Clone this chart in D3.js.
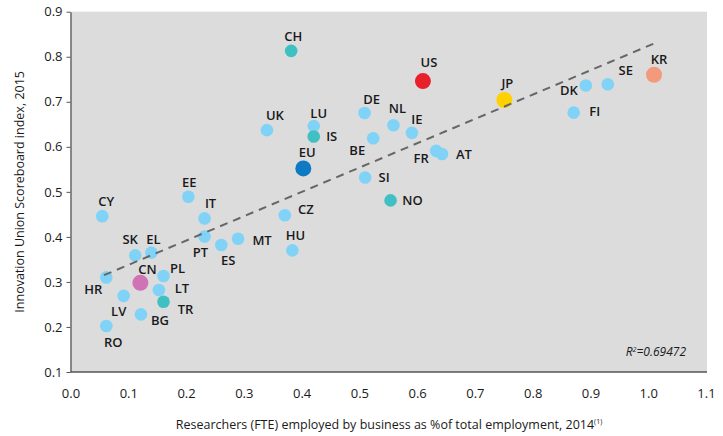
<!DOCTYPE html>
<html>
<head>
<meta charset="utf-8">
<script src="https://cdn.jsdelivr.net/npm/d3@7"></script>
<style>
  html, body { margin: 0; padding: 0; background: #fff; }
  svg { display: block; font-family: "Open Sans", "Lato", sans-serif; }
</style>
</head>
<body>
<svg id="chart" width="723" height="436"></svg>
<script>
// ---- data ----
const codes = ["CH","UK","LU","IS","EU","EE","CY","IT","CZ","US","JP","DE","NL","IE","BE","FR","AT","SI","NO","DK","SE","KR","FI","SK","EL","HR","CN","PL","LT","TR","LV","BG","RO","PT","ES","MT","HU"];
const researchers = [0.382,0.340,0.421,0.421,0.403,0.204,0.055,0.232,0.371,0.610,0.751,0.509,0.559,0.591,0.524,0.633,0.643,0.510,0.554,0.892,0.930,1.010,0.871,0.112,0.140,0.062,0.121,0.161,0.153,0.161,0.092,0.122,0.062,0.232,0.261,0.290,0.384];
const iusIndex = [0.813,0.637,0.646,0.623,0.552,0.489,0.446,0.441,0.448,0.746,0.704,0.675,0.648,0.631,0.619,0.591,0.584,0.532,0.481,0.736,0.739,0.760,0.676,0.359,0.365,0.310,0.298,0.313,0.282,0.256,0.269,0.228,0.202,0.401,0.382,0.396,0.370];
const groups = ["other","eu28","eu28","other","eu","eu28","eu28","eu28","eu28","us","jp","eu28","eu28","eu28","eu28","eu28","eu28","eu28","other","eu28","eu28","kr","eu28","eu28","eu28","eu28","cn","eu28","eu28","other","eu28","eu28","eu28","eu28","eu28","eu28","eu28"];
const xTicks = [0.0,0.1,0.2,0.3,0.4,0.5,0.6,0.7,0.8,0.9,1.0,1.1];
const yTicks = [0.1,0.2,0.3,0.4,0.5,0.6,0.7,0.8,0.9];
const trendX = [0.058, 1.015];
const trendY = [0.315, 0.832];
const rSquared = "0.69472";

// ---- styles / layout (not data) ----
const colors = {eu28:"#80d3f6", other:"#40c0c3", eu:"#0f7ac4", us:"#e8202a", jp:"#ffd100", kr:"#f49a7c", cn:"#cf73b6"};
const bigGroups = new Set(["eu","us","jp","kr","cn"]);
const labelOffsets = {
  CH:[2,-15], UK:[8,-15], LU:[5,-13], IS:[18,0], EU:[4,-16], EE:[1,-15], CY:[4,-15], IT:[6,-15], CZ:[21,-6],
  US:[6,-19], JP:[3,-17], DE:[7,-14], NL:[4,-17], IE:[5,-14], BE:[-16,12], FR:[-15,7], AT:[22,0], SI:[19,0],
  NO:[22,0], DK:[-17,4], SE:[18,-14], KR:[5,-16], FI:[21,-2], SK:[-5,-16], EL:[2,-14], HR:[-13,12], CN:[7,-14],
  PL:[14,-8], LT:[23,-2], TR:[22,7], LV:[-5,15], BG:[19,6], RO:[7,16], PT:[-4,16], ES:[7,15], MT:[24,1], HU:[3,-15]
};

const svg = d3.select("#chart");
const x = d3.scaleLinear().domain([0, 1.1]).range([70.5, 706]);
const y = d3.scaleLinear().domain([0.1, 0.9]).range([372, 11.7]);

// background
svg.append("rect")
  .attr("x", x(0)).attr("y", y(0.9))
  .attr("width", 707 - x(0)).attr("height", y(0.1) - y(0.9))
  .attr("fill", "#dcdcdd");

// axes
const yAxis = svg.append("g").attr("transform", `translate(${x(0)},0)`)
  .call(d3.axisLeft(y).tickValues(yTicks).tickFormat(d3.format(".1f")).tickSize(4).tickSizeOuter(0));
const xAxis = svg.append("g").attr("transform", `translate(0,${y(0.1)})`)
  .call(d3.axisBottom(x).tickValues(xTicks).tickFormat(d3.format(".1f")).tickSize(0).tickSizeOuter(0));
[xAxis, yAxis].forEach(g => {
  g.select(".domain").attr("stroke", "#555").attr("stroke-width", 1.3);
  g.selectAll(".tick line").attr("stroke", "#555");
  g.selectAll(".tick text").attr("fill", "#1a1a1a").style("font-size", "13px").style("font-family", "'Open Sans', sans-serif");
});
xAxis.selectAll(".tick text").attr("dy", "1.8em");
yAxis.selectAll(".tick text").attr("x", -8);
xAxis.select(".domain").attr("d", `M${x(0)},0H707`);

// points
const data = codes.map((c, i) => ({code: c, x: researchers[i], y: iusIndex[i], g: groups[i]}));
svg.append("g").selectAll("circle").data(data).join("circle")
  .attr("cx", d => x(d.x)).attr("cy", d => y(d.y))
  .attr("r", d => bigGroups.has(d.g) ? 8 : 6.3)
  .attr("fill", d => colors[d.g]);

// trend line
svg.append("line")
  .attr("x1", x(trendX[0])).attr("y1", y(trendY[0]))
  .attr("x2", x(trendX[1])).attr("y2", y(trendY[1]))
  .attr("stroke", "#666").attr("stroke-width", 2).attr("stroke-dasharray", "8,6");

// labels
svg.append("g").selectAll("text").data(data).join("text")
  .attr("x", d => x(d.x) + labelOffsets[d.code][0])
  .attr("y", d => y(d.y) + labelOffsets[d.code][1])
  .attr("text-anchor", "middle").attr("dominant-baseline", "central")
  .attr("fill", "#1a1a1a").style("font-size", "13px").style("font-weight", 600)
  .text(d => d.code);

// R squared
const rt = svg.append("text").attr("x", 686).attr("y", 356).attr("text-anchor", "end")
  .style("font-size", "12px").style("font-style", "italic").attr("fill", "#1a1a1a");
rt.append("tspan").text("R");
rt.append("tspan").attr("dy", -4).style("font-size", "7px").text("2");
rt.append("tspan").attr("dy", 4).text("=" + rSquared);

// axis titles
svg.append("text")
  .attr("transform", `translate(19,${(y(0.9) + y(0.1)) / 2}) rotate(-90)`)
  .attr("text-anchor", "middle").attr("dominant-baseline", "central")
  .style("font-size", "12.5px").attr("fill", "#1a1a1a")
  .text("Innovation Union Scoreboard index, 2015");
const xt = svg.append("text").attr("x", 389).attr("y", 429).attr("text-anchor", "middle")
  .style("font-size", "12.5px").attr("fill", "#1a1a1a");
xt.append("tspan").text("Researchers (FTE) employed by business as %of total employment, 2014");
xt.append("tspan").attr("dy", -5).style("font-size", "7px").text("(1)");
</script>
</body>
</html>
